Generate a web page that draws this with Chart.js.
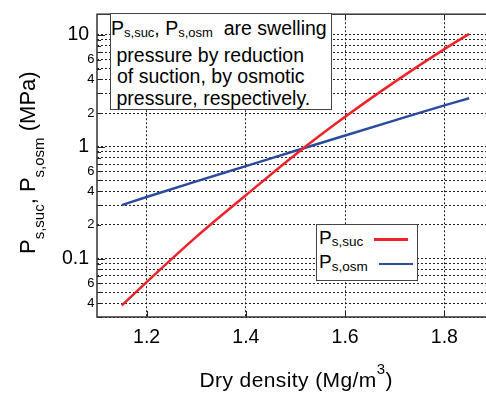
<!DOCTYPE html>
<html>
<head>
<meta charset="utf-8">
<script src="https://cdn.jsdelivr.net/npm/chart.js@4"></script>
<style>
  body { margin: 0; background: #fff; }
  #wrap { position: relative; width: 486px; height: 396px; overflow: hidden;
          font-family: "Liberation Sans", Arial, Helvetica, sans-serif; color: #000; }
  #wrap canvas { position: absolute; left: 0; top: 0; }
  .t { position: absolute; white-space: nowrap; }
  .note { position: absolute; left: 109.5px; top: 13px; width: 222.5px; height: 97px;
          box-sizing: border-box; border: 1.5px solid #444; background: #fff; }
  .nl { font-size: 19.5px; line-height: 22px; }
  .nsb { font-size: 13px; position: relative; top: 2px; }
  #legend { position: absolute; left: 316px; top: 224px; width: 102px; height: 57px;
            box-sizing: border-box; border: 1.5px solid #444; background: #fff; }
  .lg { font-size: 19px; line-height: 22px; }
  .lsb { font-size: 13.5px; position: relative; top: 2.5px; }
  .swatch { position: absolute; height: 2.5px; width: 34px; }
  #ytitle { font-size: 22px; line-height: 22px; transform-origin: 0 0; transform: rotate(-90deg); }
  .ysb { font-size: 15px; position: relative; top: 9px; }
  #xtitle { font-size: 21px; line-height: 22px; letter-spacing: 0.4px; }
  .sup { font-size: 15px; position: relative; top: -12.5px; }
</style>
</head>
<body>
<div id="wrap">
  <canvas id="myChart" width="510" height="396"></canvas>

  <div class="t" id="ytitle" style="left:16.5px; top:254px;">P<span class="ysb">s,suc</span>, P<span class="ysb">s,osm</span> (MPa)</div>
  <div class="t" id="xtitle" style="left:199.5px; top:368.5px;">Dry density (Mg/m<span class="sup">3</span>)</div>

  <div class="note"></div>
  <div class="t nl" style="left:111px; top:17.3px;">P<span class="nsb">s,suc</span>, P<span class="nsb">s,osm</span>&nbsp; are swelling</div>
  <div class="t nl" style="left:116.5px; top:43.8px;">pressure by reduction</div>
  <div class="t nl" style="left:117px; top:65.3px;">of suction, by osmotic</div>
  <div class="t nl" style="left:116.5px; top:86.8px;">pressure, respectively.</div>

  <div id="legend"></div>
</div>

<script>
// data
const densities = [1.15, 1.2, 1.3, 1.4, 1.5, 1.6, 1.7, 1.8, 1.85];
const pSuc = [0.038, 0.0615, 0.156, 0.368, 0.853, 1.85, 3.8, 7.45, 10.2];
const pOsm = [0.30, 0.355, 0.49, 0.67, 0.92, 1.26, 1.72, 2.34, 2.71];
const seriesSubs = ['s,suc', 's,osm'];
const seriesColors = ['#ee2229', '#2b4ba0'];

// axis ticks
const xTicks = [1.2, 1.4, 1.6, 1.8];
const yGrid = [0.03, 0.04, 0.05, 0.06, 0.07, 0.08, 0.09,
               0.1, 0.2, 0.3, 0.4, 0.5, 0.6, 0.7, 0.8, 0.9,
               1, 2, 3, 4, 5, 6, 7, 8, 9, 10];
const yMajor = [0.1, 1, 10];
const yLabels = {0.04: '4', 0.06: '6', 0.1: '0.1', 0.2: '2', 0.4: '4', 0.6: '6',
                 1: '1', 2: '2', 4: '4', 6: '6', 10: '10'};

const FONT = '"Liberation Sans", Arial, Helvetica, sans-serif';

// frame round the plot + short inward ticks
const framePlugin = {
  id: 'frame',
  beforeDatasetsDraw(chart) {
    const {ctx, chartArea: a, scales: {x, y}} = chart;
    ctx.save();
    ctx.setLineDash([]);
    ctx.strokeStyle = '#222';
    ctx.lineWidth = 1;
    const seg = (x1, y1, x2, y2) => { ctx.beginPath(); ctx.moveTo(x1, y1); ctx.lineTo(x2, y2); ctx.stroke(); };
    yGrid.forEach(v => {
      const py = Math.round(y.getPixelForValue(v)) + 0.5;
      const len = yMajor.includes(v) ? 8 : 4;
      seg(a.left, py, a.left + len, py);
      seg(a.right - len, py, a.right, py);
    });
    xTicks.forEach(v => {
      const px = Math.round(x.getPixelForValue(v)) + 0.5;
      seg(px, a.bottom, px, a.bottom - 6);
      seg(px, a.top, px, a.top + 6);
    });
    ctx.strokeStyle = '#333';
    ctx.lineWidth = 1.5;
    ctx.strokeRect(a.left, a.top, a.right - a.left, a.bottom - a.top);
    ctx.restore();
  }
};

const data = {
  datasets: [
    { label: 'Ps,suc', data: densities.map((d, i) => ({x: d, y: pSuc[i]})),
      borderColor: seriesColors[0], borderWidth: 2.5, pointRadius: 0, fill: false,
      cubicInterpolationMode: 'monotone' },
    { label: 'Ps,osm', data: densities.map((d, i) => ({x: d, y: pOsm[i]})),
      borderColor: seriesColors[1], borderWidth: 2.5, pointRadius: 0, fill: false,
      cubicInterpolationMode: 'monotone' }
  ]
};

const config = {
  type: 'line',
  data,
  options: {
    responsive: false,
    animation: false,
    devicePixelRatio: 1,
    layout: { padding: { top: 8, right: 16, left: 0, bottom: 0 } },
    plugins: { legend: { display: false }, tooltip: { enabled: false } },
    scales: {
      x: {
        type: 'linear', min: 1.1, max: 1.9,
        afterFit: s => { s.height = 79; },
        afterBuildTicks: s => { s.ticks = xTicks.map(v => ({value: v})); },
        ticks: { color: '#000', padding: 9, autoSkip: false, maxRotation: 0,
                 font: { family: FONT, size: 19.5 },
                 callback: v => v.toFixed(1) },
        grid: { color: '#222', lineWidth: 1, drawTicks: false },
        border: { display: false, dash: [2, 2] }
      },
      y: {
        type: 'logarithmic', min: 0.03, max: 15.3,
        afterFit: s => { s.width = 97; },
        afterBuildTicks: s => { s.ticks = yGrid.map(v => ({value: v})); },
        ticks: {
          color: '#000', padding: 2.5, autoSkip: false,
          font: c => ({ family: FONT, size: (c.tick && yMajor.includes(c.tick.value)) ? 19.5 : 13 }),
          callback: v => {
            const l = yLabels[v];
            if (!l) return '';
            return yMajor.includes(v) ? l + ' ' : l;
          }
        },
        grid: { color: '#222', lineWidth: 1, drawTicks: false },
        border: { display: false, dash: [2, 2] }
      }
    }
  },
  plugins: [framePlugin]
};

const myChart = new Chart(document.getElementById('myChart'), config);

// legend with subscripts, built from the datasets
const wrap = document.getElementById('wrap');
const rowTops = [226.7, 251];
const swatchPos = [[374, 238], [379, 262.8]];
myChart.data.datasets.forEach((ds, i) => {
  const row = document.createElement('div');
  row.className = 't lg';
  row.style.left = '319px';
  row.style.top = rowTops[i] + 'px';
  row.innerHTML = 'P<span class="lsb">' + seriesSubs[i] + '</span>';
  wrap.appendChild(row);
  const sw = document.createElement('div');
  sw.className = 'swatch';
  sw.style.background = ds.borderColor;
  sw.style.left = swatchPos[i][0] + 'px';
  sw.style.top = swatchPos[i][1] + 'px';
  wrap.appendChild(sw);
});
</script>
</body>
</html>
